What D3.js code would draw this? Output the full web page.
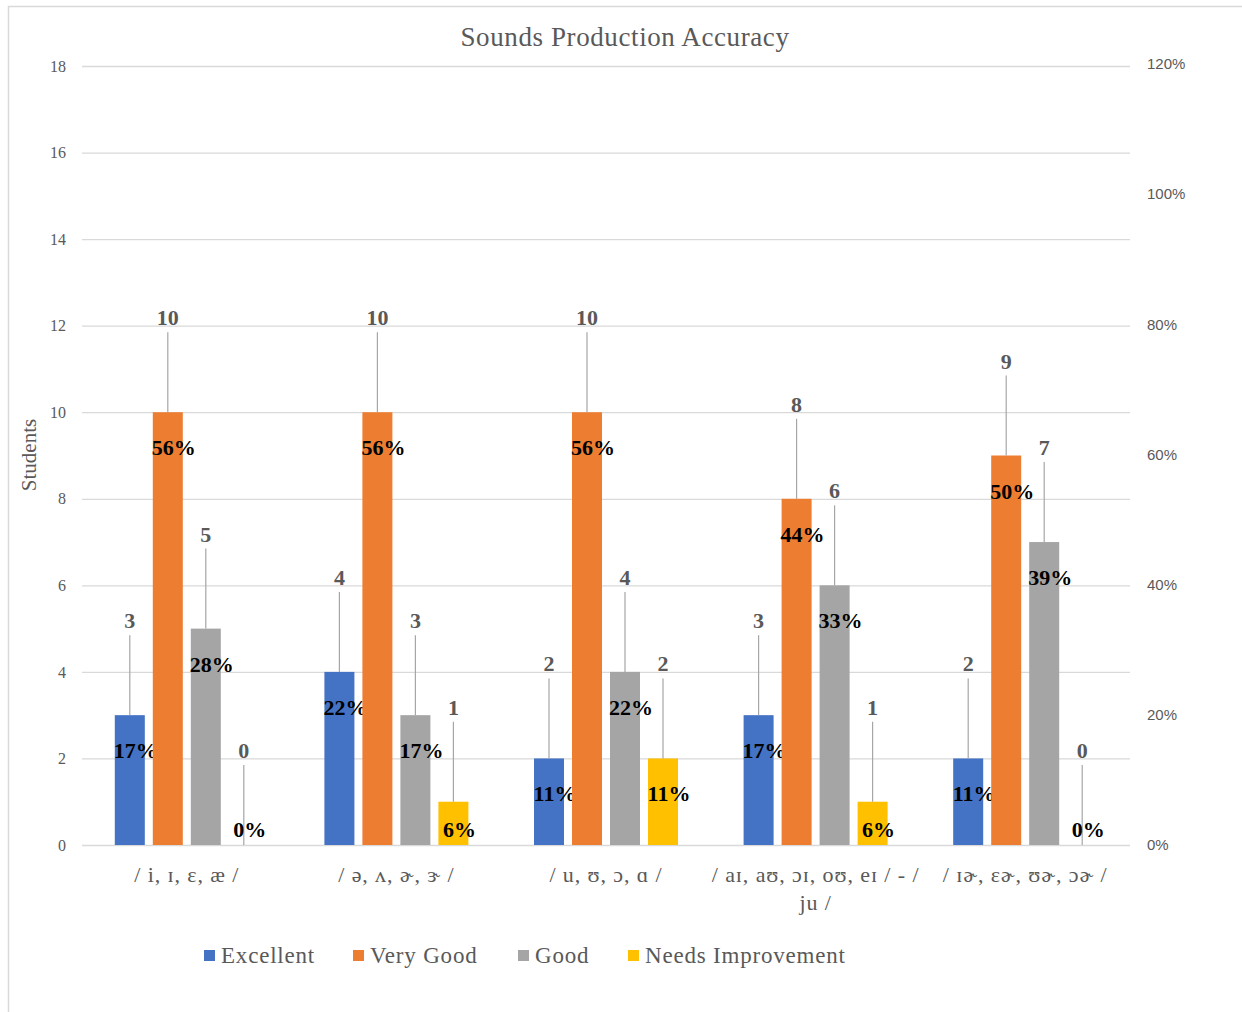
<!DOCTYPE html>
<html>
<head>
<meta charset="utf-8">
<script src="https://cdn.jsdelivr.net/npm/d3@7"></script>
<style>
  html, body { margin: 0; padding: 0; background: #fff; }
  svg { display: block; }
</style>
</head>
<body>
<div id="chart"></div>
<script>
// 分组柱状图: 左轴学生人数, 右轴百分比 (只作刻度), 每根柱上标数量 + 百分比
const categories = [
  ["/ i, ɪ, ɛ, æ /"],
  ["/ ə, ʌ, ɚ, ɝ /"],
  ["/ u, ʊ, ɔ, ɑ /"],
  ["/ aɪ, aʊ, ɔɪ, oʊ, eɪ / - /", "ju /"],
  ["/ ɪɚ, ɛɚ, ʊɚ, ɔɚ /"]
];
const seriesNames = ["Excellent", "Very Good", "Good", "Needs Improvement"];
const excellent = [3, 4, 2, 3, 2];
const veryGood = [10, 10, 10, 8, 9];
const good = [5, 3, 4, 6, 7];
const needsImprovement = [0, 1, 2, 1, 0];
const pctExcellent = ["17%", "22%", "11%", "17%", "11%"];
const pctVeryGood = ["56%", "56%", "56%", "44%", "50%"];
const pctGood = ["28%", "17%", "22%", "33%", "39%"];
const pctNeeds = ["0%", "6%", "11%", "6%", "0%"];
const leftTicks = [0, 2, 4, 6, 8, 10, 12, 14, 16, 18];
const rightTicks = [0, 0.2, 0.4, 0.6, 0.8, 1.0, 1.2];

const colors = ["#4472C4", "#ED7D31", "#A5A5A5", "#FFC000"];
const values = [excellent, veryGood, good, needsImprovement];
const pcts = [pctExcellent, pctVeryGood, pctGood, pctNeeds];

const W = 1242, H = 1012;
const serif = "'Liberation Serif', 'Times New Roman', serif";
const sans = "'Liberation Sans', Arial, sans-serif";
const plot = { left: 82, right: 1130, top: 66, bottom: 845 };

const svg = d3.select("#chart").append("svg").attr("width", W).attr("height", H);

// 外框
svg.append("rect").attr("x", 8.5).attr("y", 6.5).attr("width", W).attr("height", H)
  .attr("fill", "#fff").attr("stroke", "#d9d9d9").attr("stroke-width", 1.5);

const GROUP_W = 144; // 4 根柱 30px + 3 个 8px 间隔
const x0 = d3.scaleBand().domain(d3.range(categories.length)).range([plot.left, plot.right]).padding(0);
const x1 = d3.scaleBand().domain(d3.range(seriesNames.length)).range([0, GROUP_W]).paddingInner(8 / 38).paddingOuter(0);
const groupOffset = (x0.bandwidth() - GROUP_W) / 2;
const y = d3.scaleLinear().domain([0, 18]).range([plot.bottom, plot.top]);
const y2 = d3.scaleLinear().domain([0, 1.2]).range([plot.bottom, plot.top - 2]);

svg.append("text").attr("x", 625).attr("y", 46).attr("text-anchor", "middle")
  .attr("font-family", serif).attr("font-size", 27).attr("letter-spacing", 0.6).attr("fill", "#595959")
  .text("Sounds Production Accuracy");

// 网格 + 左轴
const gLeft = svg.append("g").attr("transform", `translate(${plot.left},0)`)
  .call(d3.axisLeft(y).tickValues(leftTicks).tickSize(-(plot.right - plot.left)).tickPadding(16));
gLeft.select(".domain").remove();
gLeft.selectAll(".tick line").attr("stroke", "#d9d9d9").attr("stroke-width", 1.3);
gLeft.selectAll(".tick text").attr("font-family", serif).attr("font-size", 16).attr("fill", "#595959");

// 右轴 (百分比)
const gRight = svg.append("g").attr("transform", `translate(${plot.right},0)`)
  .call(d3.axisRight(y2).tickValues(rightTicks).tickSize(0).tickPadding(17).tickFormat(d3.format(".0%")));
gRight.select(".domain").remove();
gRight.selectAll(".tick text").attr("font-family", sans).attr("font-size", 15).attr("fill", "#595959");

svg.append("text").attr("transform", "translate(36,455) rotate(-90)").attr("text-anchor", "middle")
  .attr("font-family", serif).attr("font-size", 21).attr("fill", "#595959").text("Students");

// 柱子 + 标签
const groups = svg.append("g").selectAll("g").data(categories).join("g")
  .attr("transform", (d, i) => `translate(${x0(i) + groupOffset},0)`);

const LIFT = 90;
values.forEach((vals, s) => {
  const bx = x1(s), bw = x1.bandwidth();
  groups.append("rect")
    .attr("x", bx).attr("width", bw)
    .attr("y", (d, i) => y(vals[i]))
    .attr("height", (d, i) => y(0) - y(vals[i]))
    .attr("fill", colors[s]);
  // 引导线
  groups.append("line")
    .attr("x1", bx + bw / 2).attr("x2", bx + bw / 2)
    .attr("y1", (d, i) => y(vals[i]) - LIFT + 10)
    .attr("y2", (d, i) => y(vals[i]))
    .attr("stroke", "#a6a6a6").attr("stroke-width", 1.2);
  groups.append("text")
    .attr("x", bx + bw / 2).attr("y", (d, i) => y(vals[i]) - LIFT + 3)
    .attr("text-anchor", "middle").attr("font-family", serif).attr("font-size", 22)
    .attr("font-weight", "bold").attr("fill", "#595959")
    .text((d, i) => vals[i]);
  groups.append("text")
    .attr("x", bx + bw / 2 + 6).attr("y", (d, i) => Math.min(y(vals[i]) + 43, y(0) - 8))
    .attr("text-anchor", "middle").attr("font-family", serif).attr("font-size", 22)
    .attr("font-weight", "bold").attr("fill", "#000")
    .text((d, i) => pcts[s][i]);
});

// 类别标签
svg.append("g").selectAll("text").data(categories).join("text")
  .attr("x", (d, i) => x0(i) + x0.bandwidth() / 2)
  .attr("y", 882)
  .attr("text-anchor", "middle").attr("font-family", serif).attr("font-size", 22)
  .attr("letter-spacing", 0.9).attr("fill", "#595959")
  .each(function (d) {
    d3.select(this).selectAll("tspan").data(d).join("tspan")
      .attr("x", d3.select(this).attr("x"))
      .attr("dy", (t, j) => j === 0 ? 0 : 28)
      .text(t => t);
  });

// 图例
const legendX = [204, 353, 518, 628];
const lg = svg.append("g").selectAll("g").data(seriesNames).join("g")
  .attr("transform", (d, i) => `translate(${legendX[i]},955)`);
lg.append("rect").attr("x", 0).attr("y", -5).attr("width", 11).attr("height", 11)
  .attr("fill", (d, i) => colors[i]);
lg.append("text").attr("x", 17).attr("y", 8).attr("font-family", serif).attr("font-size", 23)
  .attr("letter-spacing", 0.8).attr("fill", "#595959").text(d => d);
</script>
</body>
</html>
